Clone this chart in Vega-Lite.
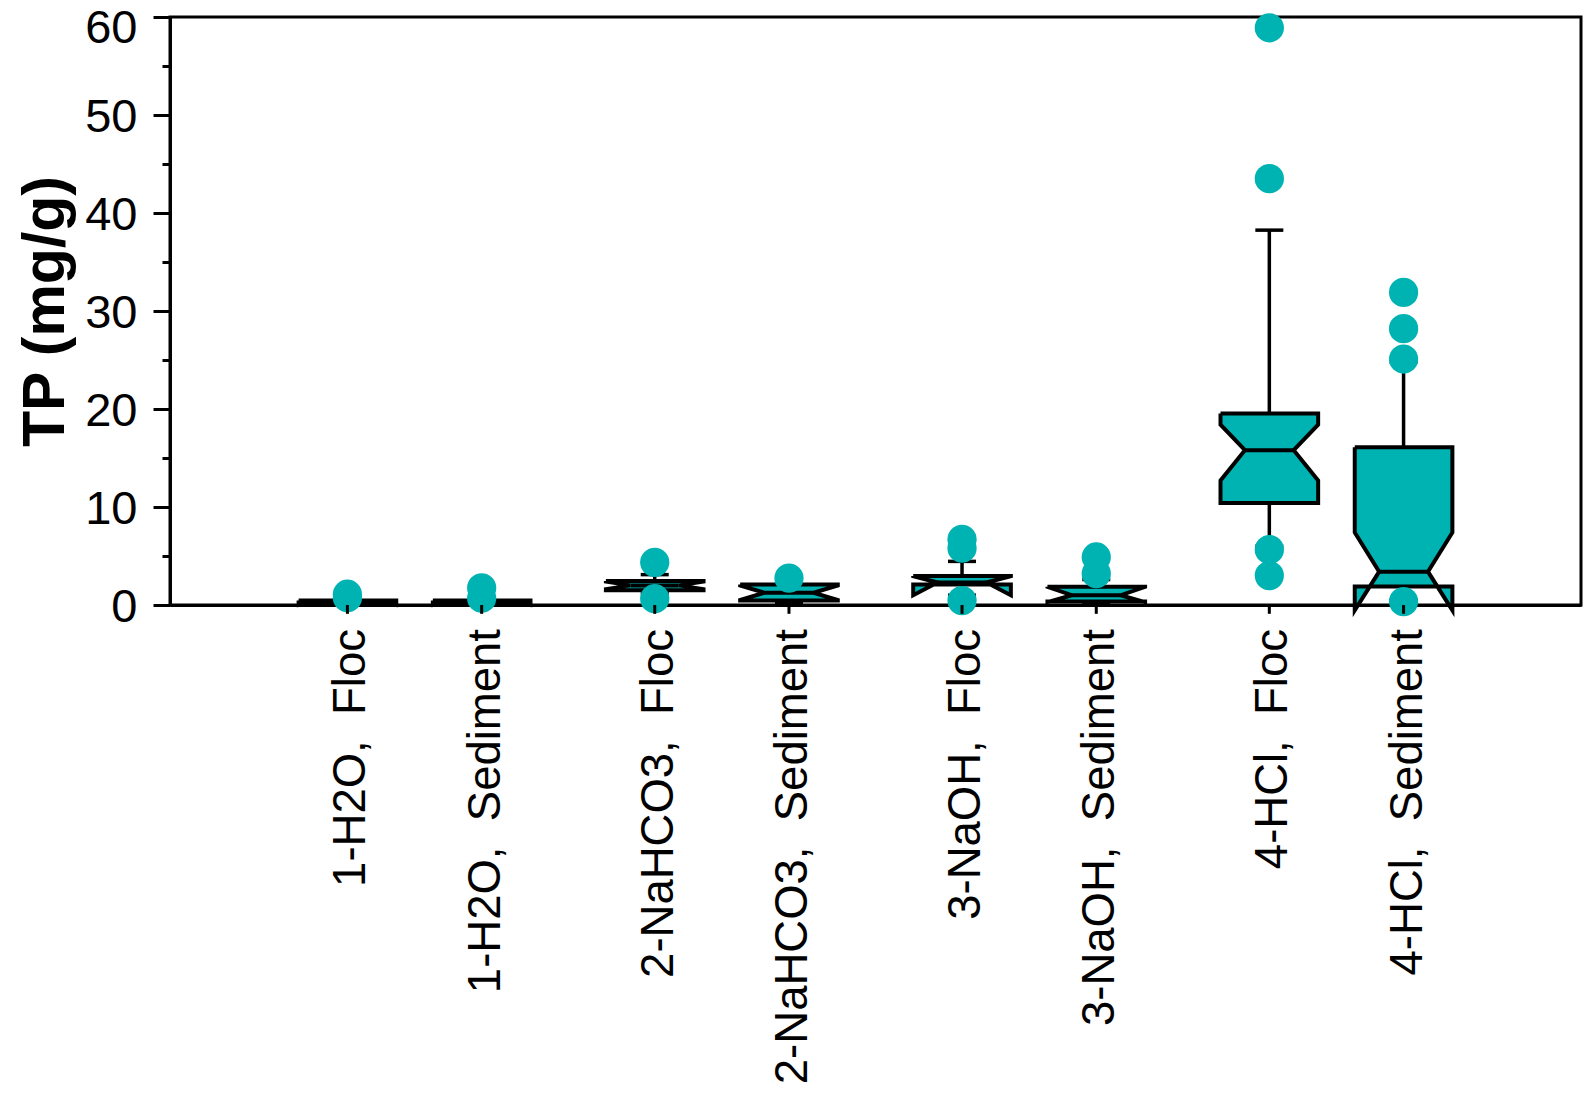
{
  "$schema": "https://vega.github.io/schema/vega-lite/v6.json",
  "background": "white",
  "autosize": {"type": "none"},
  "padding": {"left": 170, "top": 17, "right": 10, "bottom": 489},
  "width": 1411,
  "height": 588,
  "config": {
    "view": {"stroke": "black", "strokeWidth": 3},
    "font": "Liberation Sans",
    "axis": {
      "domainColor": "black", "domainWidth": 3,
      "tickColor": "black", "tickWidth": 3,
      "labelColor": "black", "labelFont": "Liberation Sans", "labelFontSize": 47,
      "titleColor": "black", "titleFont": "Liberation Sans",
      "grid": false, "zindex": 1
    }
  },
  "datasets": {
    "stats": [
      {"group": "1-H2O", "type": "Floc", "label": "1-H2O,\u00a0 Floc", "lo": 0.0, "q1": 0.05, "median": 0.2, "q3": 0.45, "hi": 0.6},
      {"group": "1-H2O", "type": "Sediment", "label": "1-H2O,\u00a0 Sediment", "lo": 0.0, "q1": 0.05, "median": 0.2, "q3": 0.45, "hi": 0.6},
      {"group": "2-NaHCO3", "type": "Floc", "label": "2-NaHCO3,\u00a0 Floc", "lo": 1.2, "q1": 1.5, "median": 2.0, "q3": 2.45, "hi": 3.1},
      {"group": "2-NaHCO3", "type": "Sediment", "label": "2-NaHCO3,\u00a0 Sediment", "lo": 0.2, "q1": 0.45, "median": 1.25, "q3": 2.1, "hi": 2.5},
      {"group": "3-NaOH", "type": "Floc", "label": "3-NaOH,\u00a0 Floc", "lo": 1.0, "q1": 2.1, "median": 2.3, "q3": 2.96, "hi": 4.45},
      {"group": "3-NaOH", "type": "Sediment", "label": "3-NaOH,\u00a0 Sediment", "lo": 0.1, "q1": 0.35, "median": 1.0, "q3": 1.87, "hi": 2.6},
      {"group": "4-HCl", "type": "Floc", "label": "4-HCl,\u00a0 Floc", "lo": 6.0, "q1": 10.4, "median": 15.8, "q3": 19.55, "hi": 38.25},
      {"group": "4-HCl", "type": "Sediment", "label": "4-HCl,\u00a0 Sediment", "lo": 0.5, "q1": 1.9, "median": 3.4, "q3": 16.1, "hi": 24.8}
    ],
    "outline": [
      {"group": "1-H2O", "type": "Floc", "corner": "Floc L", "tp": 0.45},
      {"group": "1-H2O", "type": "Floc", "corner": "Floc L", "tp": 0.4},
      {"group": "1-H2O", "type": "Floc", "corner": "Floc wL", "tp": 0.2},
      {"group": "1-H2O", "type": "Floc", "corner": "Floc L", "tp": 0.0},
      {"group": "1-H2O", "type": "Floc", "corner": "Floc L", "tp": 0.05},
      {"group": "1-H2O", "type": "Floc", "corner": "Floc R", "tp": 0.05},
      {"group": "1-H2O", "type": "Floc", "corner": "Floc R", "tp": 0.0},
      {"group": "1-H2O", "type": "Floc", "corner": "Floc wR", "tp": 0.2},
      {"group": "1-H2O", "type": "Floc", "corner": "Floc R", "tp": 0.4},
      {"group": "1-H2O", "type": "Floc", "corner": "Floc R", "tp": 0.45},
      {"group": "1-H2O", "type": "Floc", "corner": "Floc L", "tp": 0.45},

      {"group": "1-H2O", "type": "Sediment", "corner": "Sediment L", "tp": 0.45},
      {"group": "1-H2O", "type": "Sediment", "corner": "Sediment L", "tp": 0.4},
      {"group": "1-H2O", "type": "Sediment", "corner": "Sediment wL", "tp": 0.2},
      {"group": "1-H2O", "type": "Sediment", "corner": "Sediment L", "tp": 0.0},
      {"group": "1-H2O", "type": "Sediment", "corner": "Sediment L", "tp": 0.05},
      {"group": "1-H2O", "type": "Sediment", "corner": "Sediment R", "tp": 0.05},
      {"group": "1-H2O", "type": "Sediment", "corner": "Sediment R", "tp": 0.0},
      {"group": "1-H2O", "type": "Sediment", "corner": "Sediment wR", "tp": 0.2},
      {"group": "1-H2O", "type": "Sediment", "corner": "Sediment R", "tp": 0.4},
      {"group": "1-H2O", "type": "Sediment", "corner": "Sediment R", "tp": 0.45},
      {"group": "1-H2O", "type": "Sediment", "corner": "Sediment L", "tp": 0.45},

      {"group": "2-NaHCO3", "type": "Floc", "corner": "Floc L", "tp": 2.45},
      {"group": "2-NaHCO3", "type": "Floc", "corner": "Floc L", "tp": 2.4},
      {"group": "2-NaHCO3", "type": "Floc", "corner": "Floc wL", "tp": 2.0},
      {"group": "2-NaHCO3", "type": "Floc", "corner": "Floc L", "tp": 1.6},
      {"group": "2-NaHCO3", "type": "Floc", "corner": "Floc L", "tp": 1.5},
      {"group": "2-NaHCO3", "type": "Floc", "corner": "Floc R", "tp": 1.5},
      {"group": "2-NaHCO3", "type": "Floc", "corner": "Floc R", "tp": 1.6},
      {"group": "2-NaHCO3", "type": "Floc", "corner": "Floc wR", "tp": 2.0},
      {"group": "2-NaHCO3", "type": "Floc", "corner": "Floc R", "tp": 2.4},
      {"group": "2-NaHCO3", "type": "Floc", "corner": "Floc R", "tp": 2.45},
      {"group": "2-NaHCO3", "type": "Floc", "corner": "Floc L", "tp": 2.45},

      {"group": "2-NaHCO3", "type": "Sediment", "corner": "Sediment L", "tp": 2.1},
      {"group": "2-NaHCO3", "type": "Sediment", "corner": "Sediment L", "tp": 2.0},
      {"group": "2-NaHCO3", "type": "Sediment", "corner": "Sediment wL", "tp": 1.25},
      {"group": "2-NaHCO3", "type": "Sediment", "corner": "Sediment L", "tp": 0.5},
      {"group": "2-NaHCO3", "type": "Sediment", "corner": "Sediment L", "tp": 0.45},
      {"group": "2-NaHCO3", "type": "Sediment", "corner": "Sediment R", "tp": 0.45},
      {"group": "2-NaHCO3", "type": "Sediment", "corner": "Sediment R", "tp": 0.5},
      {"group": "2-NaHCO3", "type": "Sediment", "corner": "Sediment wR", "tp": 1.25},
      {"group": "2-NaHCO3", "type": "Sediment", "corner": "Sediment R", "tp": 2.0},
      {"group": "2-NaHCO3", "type": "Sediment", "corner": "Sediment R", "tp": 2.1},
      {"group": "2-NaHCO3", "type": "Sediment", "corner": "Sediment L", "tp": 2.1},

      {"group": "3-NaOH", "type": "Floc", "corner": "Floc L", "tp": 2.96},
      {"group": "3-NaOH", "type": "Floc", "corner": "Floc L", "tp": 2.95},
      {"group": "3-NaOH", "type": "Floc", "corner": "Floc wL", "tp": 2.3},
      {"group": "3-NaOH", "type": "Floc", "corner": "Floc L", "tp": 1.0},
      {"group": "3-NaOH", "type": "Floc", "corner": "Floc L", "tp": 2.1},
      {"group": "3-NaOH", "type": "Floc", "corner": "Floc R", "tp": 2.1},
      {"group": "3-NaOH", "type": "Floc", "corner": "Floc R", "tp": 1.0},
      {"group": "3-NaOH", "type": "Floc", "corner": "Floc wR", "tp": 2.3},
      {"group": "3-NaOH", "type": "Floc", "corner": "Floc R", "tp": 2.95},
      {"group": "3-NaOH", "type": "Floc", "corner": "Floc R", "tp": 2.96},
      {"group": "3-NaOH", "type": "Floc", "corner": "Floc L", "tp": 2.96},

      {"group": "3-NaOH", "type": "Sediment", "corner": "Sediment L", "tp": 1.87},
      {"group": "3-NaOH", "type": "Sediment", "corner": "Sediment L", "tp": 1.85},
      {"group": "3-NaOH", "type": "Sediment", "corner": "Sediment wL", "tp": 1.0},
      {"group": "3-NaOH", "type": "Sediment", "corner": "Sediment L", "tp": 0.3},
      {"group": "3-NaOH", "type": "Sediment", "corner": "Sediment L", "tp": 0.35},
      {"group": "3-NaOH", "type": "Sediment", "corner": "Sediment R", "tp": 0.35},
      {"group": "3-NaOH", "type": "Sediment", "corner": "Sediment R", "tp": 0.3},
      {"group": "3-NaOH", "type": "Sediment", "corner": "Sediment wR", "tp": 1.0},
      {"group": "3-NaOH", "type": "Sediment", "corner": "Sediment R", "tp": 1.85},
      {"group": "3-NaOH", "type": "Sediment", "corner": "Sediment R", "tp": 1.87},
      {"group": "3-NaOH", "type": "Sediment", "corner": "Sediment L", "tp": 1.87},

      {"group": "4-HCl", "type": "Floc", "corner": "Floc L", "tp": 19.55},
      {"group": "4-HCl", "type": "Floc", "corner": "Floc L", "tp": 18.4},
      {"group": "4-HCl", "type": "Floc", "corner": "Floc wL", "tp": 15.8},
      {"group": "4-HCl", "type": "Floc", "corner": "Floc L", "tp": 12.7},
      {"group": "4-HCl", "type": "Floc", "corner": "Floc L", "tp": 10.4},
      {"group": "4-HCl", "type": "Floc", "corner": "Floc R", "tp": 10.4},
      {"group": "4-HCl", "type": "Floc", "corner": "Floc R", "tp": 12.7},
      {"group": "4-HCl", "type": "Floc", "corner": "Floc wR", "tp": 15.8},
      {"group": "4-HCl", "type": "Floc", "corner": "Floc R", "tp": 18.4},
      {"group": "4-HCl", "type": "Floc", "corner": "Floc R", "tp": 19.55},
      {"group": "4-HCl", "type": "Floc", "corner": "Floc L", "tp": 19.55},

      {"group": "4-HCl", "type": "Sediment", "corner": "Sediment L", "tp": 16.1},
      {"group": "4-HCl", "type": "Sediment", "corner": "Sediment L", "tp": 7.4},
      {"group": "4-HCl", "type": "Sediment", "corner": "Sediment wL", "tp": 3.4},
      {"group": "4-HCl", "type": "Sediment", "corner": "Sediment L", "tp": -0.55},
      {"group": "4-HCl", "type": "Sediment", "corner": "Sediment L", "tp": 1.9},
      {"group": "4-HCl", "type": "Sediment", "corner": "Sediment R", "tp": 1.9},
      {"group": "4-HCl", "type": "Sediment", "corner": "Sediment R", "tp": -0.55},
      {"group": "4-HCl", "type": "Sediment", "corner": "Sediment wR", "tp": 3.4},
      {"group": "4-HCl", "type": "Sediment", "corner": "Sediment R", "tp": 7.4},
      {"group": "4-HCl", "type": "Sediment", "corner": "Sediment R", "tp": 16.1},
      {"group": "4-HCl", "type": "Sediment", "corner": "Sediment L", "tp": 16.1}
    ],
    "outliers": [
      {"group": "1-H2O", "type": "Floc", "tp": 1.1},
      {"group": "1-H2O", "type": "Floc", "tp": 0.75},
      {"group": "1-H2O", "type": "Sediment", "tp": 1.75},
      {"group": "1-H2O", "type": "Sediment", "tp": 0.7},
      {"group": "2-NaHCO3", "type": "Floc", "tp": 4.35},
      {"group": "2-NaHCO3", "type": "Floc", "tp": 0.65},
      {"group": "2-NaHCO3", "type": "Sediment", "tp": 2.75},
      {"group": "3-NaOH", "type": "Floc", "tp": 6.7},
      {"group": "3-NaOH", "type": "Floc", "tp": 5.8},
      {"group": "3-NaOH", "type": "Floc", "tp": 0.45},
      {"group": "3-NaOH", "type": "Sediment", "tp": 4.9},
      {"group": "3-NaOH", "type": "Sediment", "tp": 3.2},
      {"group": "4-HCl", "type": "Floc", "tp": 58.9},
      {"group": "4-HCl", "type": "Floc", "tp": 43.5},
      {"group": "4-HCl", "type": "Floc", "tp": 5.65},
      {"group": "4-HCl", "type": "Floc", "tp": 3.0},
      {"group": "4-HCl", "type": "Sediment", "tp": 31.9},
      {"group": "4-HCl", "type": "Sediment", "tp": 28.2},
      {"group": "4-HCl", "type": "Sediment", "tp": 25.1},
      {"group": "4-HCl", "type": "Sediment", "tp": 0.35}
    ]
  },
  "encoding": {
    "x": {"field": "group", "type": "nominal", "title": null,
          "scale": {"type": "band", "domain": ["1-H2O", "2-NaHCO3", "3-NaOH", "4-HCl"], "paddingInner": 0.166, "paddingOuter": 0.3788},
          "axis": {"orient": "bottom", "labels": false, "ticks": false, "domain": true, "title": null}}
  },
  "layer": [
    {"data": {"name": "stats"},
     "mark": {"type": "rule", "color": "black", "strokeWidth": 3.5},
     "encoding": {
       "xOffset": {"field": "type", "type": "nominal",
                   "scale": {"type": "point", "padding": 3.6,
                             "domain": ["Floc L", "Floc L+", "Floc wL", "Floc wL+", "Floc", "Floc wR-", "Floc wR", "Floc R-", "Floc R",
                                        "between 1", "between 2",
                                        "Sediment L", "Sediment L+", "Sediment wL", "Sediment wL+", "Sediment", "Sediment wR-", "Sediment wR", "Sediment R-", "Sediment R"]}},
       "y": {"field": "q3", "type": "quantitative", "scale": {"domain": [0, 60], "nice": false, "zero": false},
             "axis": {"values": [0, 5, 10, 15, 20, 25, 30, 35, 40, 45, 50, 55, 60],
                      "tickSize": {"condition": {"test": "datum.value % 10 !== 0", "value": 8}, "value": 17},
                      "labelExpr": "datum.value % 10 === 0 ? datum.label : ''",
                      "labelOffset": {"condition": {"test": "datum.value === 60", "value": 11}, "value": 2},
                      "labelPadding": 16, "title": "TP (mg/g)", "titleFontSize": 59, "titleFontWeight": "bold", "titlePadding": 9}},
       "y2": {"field": "hi"}}},
    {"data": {"name": "stats"},
     "mark": {"type": "rule", "color": "black", "strokeWidth": 3.5},
     "encoding": {
       "xOffset": {"field": "type", "type": "nominal"},
       "y": {"field": "q1", "type": "quantitative"},
       "y2": {"field": "lo"}}},
    {"data": {"name": "stats"},
     "mark": {"type": "tick", "color": "black", "size": 28, "thickness": 3.5, "opacity": 1},
     "encoding": {
       "xOffset": {"field": "type", "type": "nominal"},
       "y": {"field": "hi", "type": "quantitative"}}},
    {"data": {"name": "stats"},
     "mark": {"type": "tick", "color": "black", "size": 28, "thickness": 3.5, "opacity": 1},
     "encoding": {
       "xOffset": {"field": "type", "type": "nominal"},
       "y": {"field": "lo", "type": "quantitative"}}},
    {"data": {"name": "outline"},
     "mark": {"type": "line", "fill": "#00b3b3", "stroke": "black", "strokeWidth": 4, "strokeJoin": "miter", "interpolate": "linear"},
     "encoding": {
       "xOffset": {"field": "corner", "type": "nominal"},
       "y": {"field": "tp", "type": "quantitative"},
       "detail": [{"field": "group", "type": "nominal"}, {"field": "type", "type": "nominal"}],
       "order": {"value": null}}},
    {"data": {"name": "stats"},
     "mark": {"type": "tick", "color": "black", "size": 48, "thickness": 4, "opacity": 1},
     "encoding": {
       "xOffset": {"field": "type", "type": "nominal"},
       "y": {"field": "median", "type": "quantitative"}}},
    {"data": {"name": "outliers"},
     "mark": {"type": "circle", "color": "#00b3b3", "size": 855, "opacity": 1},
     "encoding": {
       "xOffset": {"field": "type", "type": "nominal"},
       "y": {"field": "tp", "type": "quantitative"}}},
    {"data": {"name": "stats"},
     "mark": {"type": "rule", "color": "black", "strokeWidth": 3},
     "encoding": {
       "xOffset": {"field": "type", "type": "nominal"},
       "y": {"datum": 0, "type": "quantitative"},
       "y2": {"datum": -0.9}}},
    {"data": {"name": "stats"},
     "mark": {"type": "text", "angle": 270, "align": "right", "baseline": "middle", "dx": -24, "dy": 4, "fontSize": 45.5, "font": "Liberation Sans", "color": "black"},
     "encoding": {
       "xOffset": {"field": "type", "type": "nominal"},
       "y": {"datum": 0, "type": "quantitative"},
       "text": {"field": "label"}}}
  ]
}
